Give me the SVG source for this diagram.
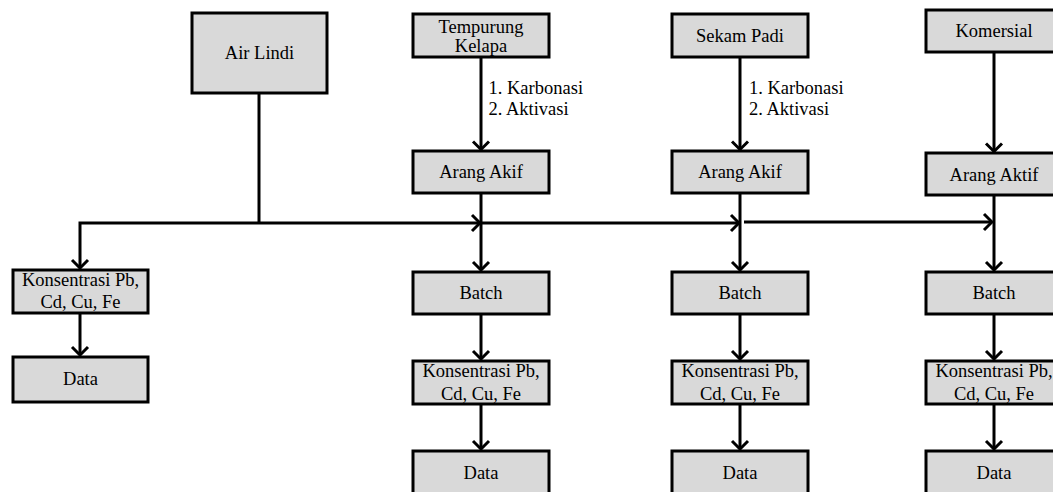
<svg xmlns="http://www.w3.org/2000/svg" width="1053" height="492" viewBox="0 0 1053 492">
<style>
.box{fill:#d9d9d9;stroke:#000;stroke-width:3}
.t{font-family:"Liberation Serif","Times New Roman",serif;font-size:18.5px;fill:#000;text-anchor:middle}
.l{font-family:"Liberation Serif","Times New Roman",serif;font-size:18.5px;fill:#000}
.c{fill:none;stroke:#000;stroke-width:3}
</style>
<defs>
<marker id="ah" viewBox="-10 -10 12 20" refX="0" refY="0" markerWidth="12" markerHeight="20" markerUnits="userSpaceOnUse" orient="auto">
<path d="M-8,-8 L0,0 L-8,8" fill="none" stroke="#000" stroke-width="3"/>
</marker>
</defs>
<rect width="1053" height="492" fill="#fff"/>
<g id="connectors">
<path class="c" d="M259,93 V223"/>
<path class="c" d="M259,223 H80 V268" marker-end="url(#ah)"/>
<path class="c" d="M259,223 H480" marker-end="url(#ah)"/>
<path class="c" d="M481,223 H739" marker-end="url(#ah)"/>
<path class="c" d="M744,222 H992" marker-end="url(#ah)"/>
<path class="c" d="M80,313 V355" marker-end="url(#ah)"/>
<path class="c" d="M481,57 V149.5" marker-end="url(#ah)"/>
<path class="c" d="M481,193 V270" marker-end="url(#ah)"/>
<path class="c" d="M481,314 V359" marker-end="url(#ah)"/>
<path class="c" d="M481,404 V449" marker-end="url(#ah)"/>
<path class="c" d="M740,57 V149.5" marker-end="url(#ah)"/>
<path class="c" d="M740,193 V270" marker-end="url(#ah)"/>
<path class="c" d="M740,314 V359" marker-end="url(#ah)"/>
<path class="c" d="M740,404 V449" marker-end="url(#ah)"/>
<path class="c" d="M994,52 V151.5" marker-end="url(#ah)"/>
<path class="c" d="M994,195 V270" marker-end="url(#ah)"/>
<path class="c" d="M994,314 V359" marker-end="url(#ah)"/>
<path class="c" d="M994,404 V449" marker-end="url(#ah)"/>
<text class="l" x="488.5" y="94">1. Karbonasi</text>
<text class="l" x="488.5" y="115">2. Aktivasi</text>
<text class="l" x="749" y="94">1. Karbonasi</text>
<text class="l" x="749" y="115">2. Aktivasi</text>
</g>
<g id="air-lindi"><rect class="box" x="192" y="13" width="135" height="80"/><text class="t" x="259.5" y="59">Air Lindi</text></g>
<g id="tempurung"><rect class="box" x="413" y="14" width="136" height="43"/><text class="t" x="481" y="33">Tempurung</text><text class="t" x="481" y="52">Kelapa</text></g>
<g id="sekam"><rect class="box" x="672" y="14" width="136" height="43"/><text class="t" x="740" y="41.5">Sekam Padi</text></g>
<g id="komersial"><rect class="box" x="926" y="10" width="136" height="42"/><text class="t" x="994" y="37">Komersial</text></g>
<g id="arang1"><rect class="box" x="413" y="151" width="136" height="42"/><text class="t" x="481" y="178">Arang Akif</text></g>
<g id="arang2"><rect class="box" x="672" y="151" width="136" height="42"/><text class="t" x="740" y="178">Arang Akif</text></g>
<g id="arang3"><rect class="box" x="926" y="153" width="136" height="42"/><text class="t" x="994" y="181">Arang Aktif</text></g>
<g id="konsentrasi0"><rect class="box" x="13" y="270" width="135" height="43"/><text class="t" x="80.5" y="286">Konsentrasi Pb,</text><text class="t" x="80.5" y="308">Cd, Cu, Fe</text></g>
<g id="data0"><rect class="box" x="13" y="357" width="135" height="45"/><text class="t" x="80.5" y="385">Data</text></g>
<g id="batch1"><rect class="box" x="413" y="272" width="136" height="42"/><text class="t" x="481" y="299">Batch</text></g>
<g id="batch2"><rect class="box" x="672" y="272" width="136" height="42"/><text class="t" x="740" y="299">Batch</text></g>
<g id="batch3"><rect class="box" x="926" y="272" width="136" height="42"/><text class="t" x="994" y="299">Batch</text></g>
<g id="konsentrasi1"><rect class="box" x="413" y="361" width="136" height="43"/><text class="t" x="481" y="377">Konsentrasi Pb,</text><text class="t" x="481" y="400">Cd, Cu, Fe</text></g>
<g id="konsentrasi2"><rect class="box" x="672" y="361" width="136" height="43"/><text class="t" x="740" y="377">Konsentrasi Pb,</text><text class="t" x="740" y="400">Cd, Cu, Fe</text></g>
<g id="konsentrasi3"><rect class="box" x="926" y="361" width="136" height="43"/><text class="t" x="994" y="377">Konsentrasi Pb,</text><text class="t" x="994" y="400">Cd, Cu, Fe</text></g>
<g id="data1"><rect class="box" x="413" y="451" width="136" height="50"/><text class="t" x="481" y="479">Data</text></g>
<g id="data2"><rect class="box" x="672" y="451" width="136" height="50"/><text class="t" x="740" y="479">Data</text></g>
<g id="data3"><rect class="box" x="926" y="451" width="136" height="50"/><text class="t" x="994" y="479">Data</text></g>
</svg>
